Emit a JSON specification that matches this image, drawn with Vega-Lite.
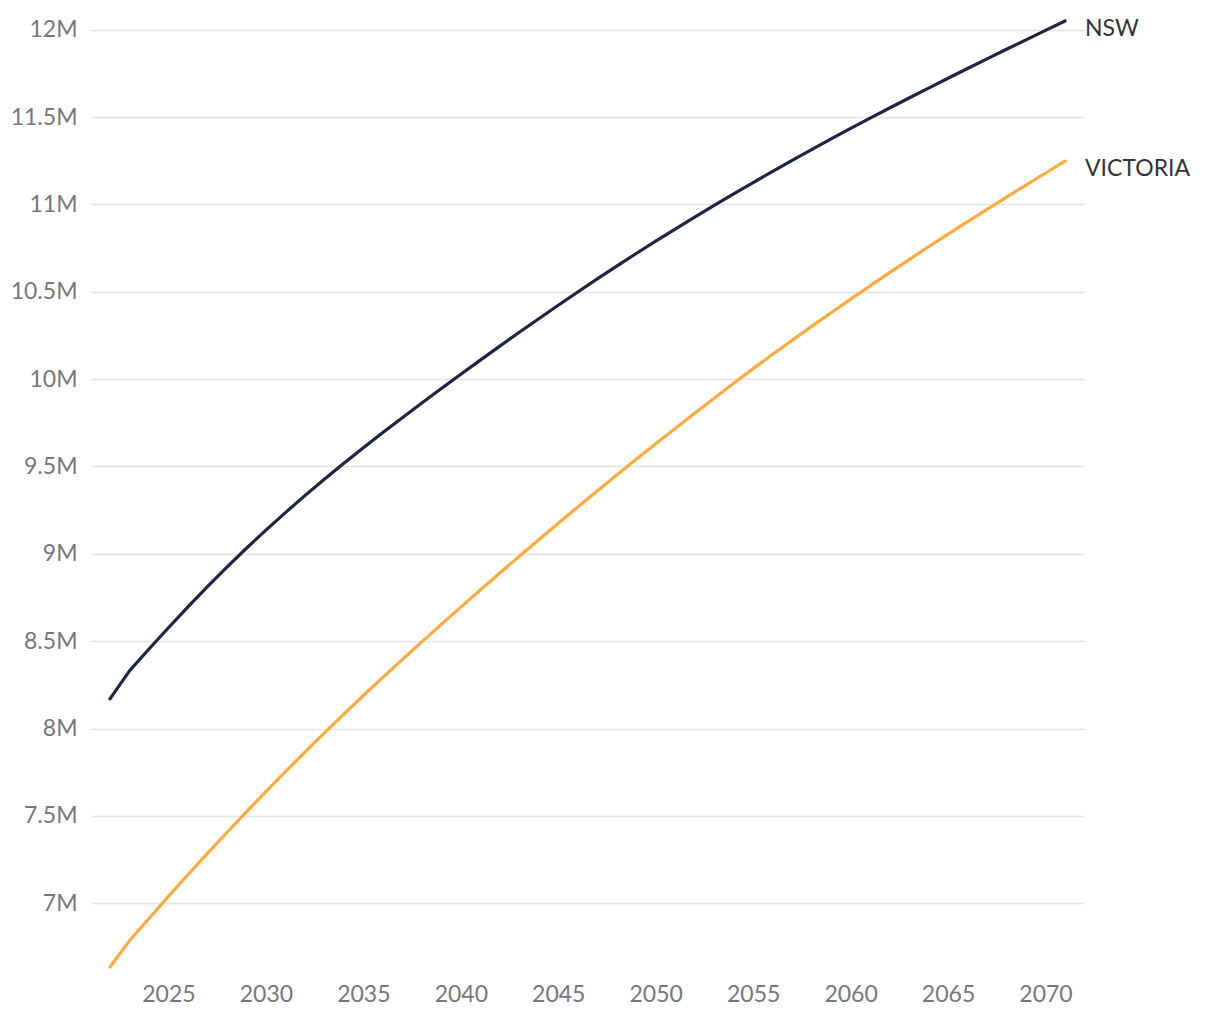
{
  "$schema": "https://vega.github.io/schema/vega-lite/v6.json",
  "autosize": "none",
  "width": 993,
  "height": 946,
  "padding": {"left": 91, "top": 21, "right": 136, "bottom": 53},
  "background": "white",
  "config": {
    "view": {"stroke": null},
    "font": "Lato"
  },
  "data": {
    "values": [
      {"year": 2022, "state": "NSW", "pop": 8170000},
      {"year": 2023, "state": "NSW", "pop": 8330000},
      {"year": 2024, "state": "NSW", "pop": 8455000},
      {"year": 2025, "state": "NSW", "pop": 8577000},
      {"year": 2026, "state": "NSW", "pop": 8696000},
      {"year": 2027, "state": "NSW", "pop": 8812000},
      {"year": 2028, "state": "NSW", "pop": 8924000},
      {"year": 2029, "state": "NSW", "pop": 9032000},
      {"year": 2030, "state": "NSW", "pop": 9136000},
      {"year": 2031, "state": "NSW", "pop": 9236000},
      {"year": 2032, "state": "NSW", "pop": 9333000},
      {"year": 2033, "state": "NSW", "pop": 9427000},
      {"year": 2034, "state": "NSW", "pop": 9518000},
      {"year": 2035, "state": "NSW", "pop": 9607000},
      {"year": 2036, "state": "NSW", "pop": 9694000},
      {"year": 2037, "state": "NSW", "pop": 9779000},
      {"year": 2038, "state": "NSW", "pop": 9863000},
      {"year": 2039, "state": "NSW", "pop": 9946000},
      {"year": 2040, "state": "NSW", "pop": 10028000},
      {"year": 2041, "state": "NSW", "pop": 10109000},
      {"year": 2042, "state": "NSW", "pop": 10189000},
      {"year": 2043, "state": "NSW", "pop": 10268000},
      {"year": 2044, "state": "NSW", "pop": 10346000},
      {"year": 2045, "state": "NSW", "pop": 10423000},
      {"year": 2046, "state": "NSW", "pop": 10499000},
      {"year": 2047, "state": "NSW", "pop": 10574000},
      {"year": 2048, "state": "NSW", "pop": 10647000},
      {"year": 2049, "state": "NSW", "pop": 10719000},
      {"year": 2050, "state": "NSW", "pop": 10790000},
      {"year": 2051, "state": "NSW", "pop": 10859000},
      {"year": 2052, "state": "NSW", "pop": 10927000},
      {"year": 2053, "state": "NSW", "pop": 10994000},
      {"year": 2054, "state": "NSW", "pop": 11060000},
      {"year": 2055, "state": "NSW", "pop": 11125000},
      {"year": 2056, "state": "NSW", "pop": 11189000},
      {"year": 2057, "state": "NSW", "pop": 11252000},
      {"year": 2058, "state": "NSW", "pop": 11314000},
      {"year": 2059, "state": "NSW", "pop": 11375000},
      {"year": 2060, "state": "NSW", "pop": 11435000},
      {"year": 2061, "state": "NSW", "pop": 11494000},
      {"year": 2062, "state": "NSW", "pop": 11552000},
      {"year": 2063, "state": "NSW", "pop": 11609000},
      {"year": 2064, "state": "NSW", "pop": 11666000},
      {"year": 2065, "state": "NSW", "pop": 11722000},
      {"year": 2066, "state": "NSW", "pop": 11778000},
      {"year": 2067, "state": "NSW", "pop": 11833000},
      {"year": 2068, "state": "NSW", "pop": 11888000},
      {"year": 2069, "state": "NSW", "pop": 11942000},
      {"year": 2070, "state": "NSW", "pop": 11996000},
      {"year": 2071, "state": "NSW", "pop": 12050000},
      {"year": 2022, "state": "VICTORIA", "pop": 6635000},
      {"year": 2023, "state": "VICTORIA", "pop": 6785000},
      {"year": 2024, "state": "VICTORIA", "pop": 6913000},
      {"year": 2025, "state": "VICTORIA", "pop": 7039000},
      {"year": 2026, "state": "VICTORIA", "pop": 7163000},
      {"year": 2027, "state": "VICTORIA", "pop": 7285000},
      {"year": 2028, "state": "VICTORIA", "pop": 7405000},
      {"year": 2029, "state": "VICTORIA", "pop": 7523000},
      {"year": 2030, "state": "VICTORIA", "pop": 7639000},
      {"year": 2031, "state": "VICTORIA", "pop": 7753000},
      {"year": 2032, "state": "VICTORIA", "pop": 7865000},
      {"year": 2033, "state": "VICTORIA", "pop": 7975000},
      {"year": 2034, "state": "VICTORIA", "pop": 8083000},
      {"year": 2035, "state": "VICTORIA", "pop": 8189000},
      {"year": 2036, "state": "VICTORIA", "pop": 8293000},
      {"year": 2037, "state": "VICTORIA", "pop": 8395000},
      {"year": 2038, "state": "VICTORIA", "pop": 8496000},
      {"year": 2039, "state": "VICTORIA", "pop": 8596000},
      {"year": 2040, "state": "VICTORIA", "pop": 8695000},
      {"year": 2041, "state": "VICTORIA", "pop": 8793000},
      {"year": 2042, "state": "VICTORIA", "pop": 8890000},
      {"year": 2043, "state": "VICTORIA", "pop": 8986000},
      {"year": 2044, "state": "VICTORIA", "pop": 9081000},
      {"year": 2045, "state": "VICTORIA", "pop": 9175000},
      {"year": 2046, "state": "VICTORIA", "pop": 9268000},
      {"year": 2047, "state": "VICTORIA", "pop": 9360000},
      {"year": 2048, "state": "VICTORIA", "pop": 9451000},
      {"year": 2049, "state": "VICTORIA", "pop": 9541000},
      {"year": 2050, "state": "VICTORIA", "pop": 9630000},
      {"year": 2051, "state": "VICTORIA", "pop": 9718000},
      {"year": 2052, "state": "VICTORIA", "pop": 9805000},
      {"year": 2053, "state": "VICTORIA", "pop": 9891000},
      {"year": 2054, "state": "VICTORIA", "pop": 9976000},
      {"year": 2055, "state": "VICTORIA", "pop": 10060000},
      {"year": 2056, "state": "VICTORIA", "pop": 10142000},
      {"year": 2057, "state": "VICTORIA", "pop": 10222000},
      {"year": 2058, "state": "VICTORIA", "pop": 10302000},
      {"year": 2059, "state": "VICTORIA", "pop": 10380000},
      {"year": 2060, "state": "VICTORIA", "pop": 10458000},
      {"year": 2061, "state": "VICTORIA", "pop": 10534000},
      {"year": 2062, "state": "VICTORIA", "pop": 10610000},
      {"year": 2063, "state": "VICTORIA", "pop": 10684000},
      {"year": 2064, "state": "VICTORIA", "pop": 10758000},
      {"year": 2065, "state": "VICTORIA", "pop": 10830000},
      {"year": 2066, "state": "VICTORIA", "pop": 10902000},
      {"year": 2067, "state": "VICTORIA", "pop": 10972000},
      {"year": 2068, "state": "VICTORIA", "pop": 11042000},
      {"year": 2069, "state": "VICTORIA", "pop": 11111000},
      {"year": 2070, "state": "VICTORIA", "pop": 11180000},
      {"year": 2071, "state": "VICTORIA", "pop": 11248000}
    ]
  },
  "encoding": {
    "x": {
      "field": "year",
      "type": "quantitative",
      "scale": {"domain": [2022, 2071], "padding": 19, "nice": false, "zero": false},
      "axis": {
        "title": null,
        "values": [2025, 2030, 2035, 2040, 2045, 2050, 2055, 2060, 2065, 2070],
        "format": "d",
        "grid": false,
        "domain": false,
        "ticks": false,
        "tickSize": 0,
        "labelPadding": 16,
        "labelFontSize": 23,
        "labelColor": "#777777",
        "labelFont": "Lato"
      }
    },
    "y": {
      "field": "pop",
      "type": "quantitative",
      "scale": {"domain": [6635000, 12050000], "nice": false, "zero": false},
      "axis": {
        "title": null,
        "values": [7000000, 7500000, 8000000, 8500000, 9000000, 9500000, 10000000, 10500000, 11000000, 11500000, 12000000],
        "format": "~s",
        "grid": true,
        "gridColor": "#e3e3e3",
        "gridWidth": 1.5,
        "domain": false,
        "ticks": false,
        "tickSize": 0,
        "labelPadding": 14,
        "labelFontSize": 23,
        "labelColor": "#777777",
        "labelFont": "Lato"
      }
    },
    "color": {
      "field": "state",
      "type": "nominal",
      "scale": {"domain": ["NSW", "VICTORIA"], "range": ["#1c2541", "#ffab40"]},
      "legend": null
    }
  },
  "layer": [
    {
      "mark": {"type": "line", "strokeWidth": 3.2, "strokeCap": "round", "strokeJoin": "round", "interpolate": "linear"}
    },
    {
      "transform": [{"filter": "datum.year == 2071"}],
      "mark": {"type": "text", "align": "left", "baseline": "middle", "dx": 20, "dy": 8, "fontSize": 23, "font": "Lato", "color": "#333333"},
      "encoding": {
        "text": {"field": "state"},
        "color": {"value": "#333333"}
      }
    }
  ]
}
